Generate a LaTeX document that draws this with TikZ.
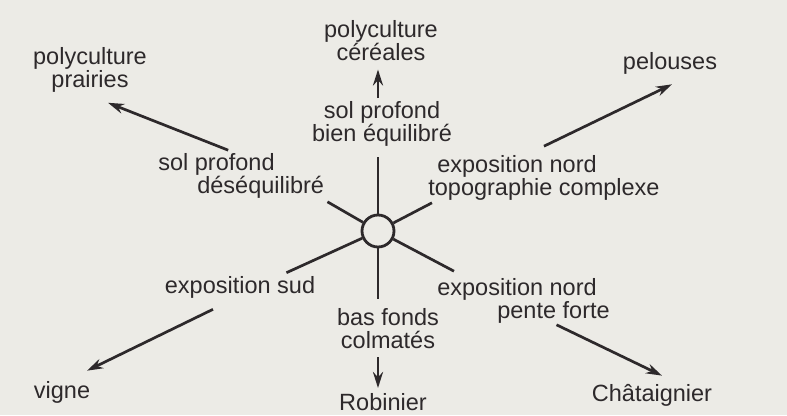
\documentclass[tikz,border=0pt]{standalone}
\usepackage{fontspec}
\setmainfont{Liberation Sans}
\usepackage{tikz}
\usetikzlibrary{arrows.meta}
\definecolor{paper}{HTML}{ECEBE6}
\definecolor{ink}{HTML}{2D292B}

\begin{document}
\begin{tikzpicture}[x=1pt,y=-1pt,>={Stealth[length=16pt,width=10pt]},
                    line width=2.7pt,color=ink]
  \tikzstyle{every node}=[font=\fontsize{23.5}{23}\selectfont,inner sep=2pt,align=center]
  \tikzstyle{spoke}=[-]
  \tikzstyle{arr}=[->]

  \path[use as bounding box,fill=paper] (0,0) rectangle (787,415);

  \node[circle,draw,minimum size=32pt,inner sep=0pt,line width=2.8pt] (hub) at (378,231) {};

  \node (cer)   at (381,41)  {polyculture\\céréales};
  \node (bien)  at (382,124) {sol profond\\bien équilibré};
  \node (prai)  at (90,70)   {polyculture\\prairies};
  \node (desq)  [anchor=west,align=left] at (155,176) {sol profond\\\hspace*{39pt}déséquilibré};
  \node (pel)   at (670,63)  {pelouses};
  \node (topo)  [anchor=west,align=left] at (425,178) {\hspace*{9pt}exposition nord\\topographie complexe};
  \node (sud)   at (240,287) {exposition sud};
  \node (vigne) at (62,392)  {vigne};
  \node (bas)   at (388,329) {bas fonds\\colmatés};
  \node (rob)   at (383,402) {Robinier};
  \node (pente) [anchor=west,align=left] at (434,301) {exposition nord\\\hspace*{60pt}pente forte};
  \node (chat)  at (652,395) {Châtaignier};

  % rayons autour du cercle
  \path (hub) edge[spoke,shorten >=7pt] (hub |- bien.south)
        (hub) edge[spoke] (desq.south east)
        (hub) edge[spoke] ([xshift=7pt,yshift=1pt]topo.south west)
        (hub) edge[spoke] ([xshift=-32pt]sud.north east)
        (hub) edge[spoke,shorten >=7pt] (hub |- bas.north)
        (hub) edge[spoke] ([xshift=20pt,yshift=4pt]pente.north west);

  % fleches vers les cultures
  \path (hub |- bien.north) edge[arr,shorten >=5pt] (hub |- cer.south)
        ([xshift=-13pt]desq.north) edge[arr] ([xshift=18pt,yshift=-7pt]prai.south)
        ([yshift=6pt]topo.north) edge[arr] ([xshift=2pt,yshift=-7pt]pel.south)
        ([xshift=-27pt,yshift=-8pt]sud.south) edge[arr] ([xshift=25pt,yshift=7pt]vigne.north)
        (hub |- bas.south) edge[arr,shorten <=5pt,shorten >=2pt] (hub |- rob.north)
        ([xshift=33pt,yshift=2pt]pente.south) edge[arr] ([xshift=10pt,yshift=5pt]chat.north);
\end{tikzpicture}
\end{document}
